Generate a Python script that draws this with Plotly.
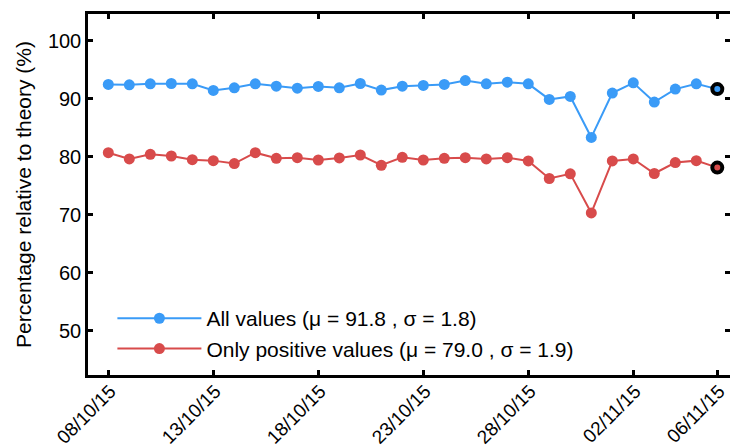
import plotly.graph_objects as go
import pandas as pd

dates = pd.date_range("2015-10-08", "2015-11-06", freq="D")

all_values = [92.45, 92.39, 92.56, 92.62, 92.56, 91.42, 91.88, 92.56, 92.16, 91.82,
              92.11, 91.88, 92.62, 91.48, 92.16, 92.28, 92.45, 93.13, 92.56, 92.85,
              92.56, 89.88, 90.39, 83.32, 90.96, 92.73, 89.42, 91.65, 92.56, 91.65]
positive_values = [80.69, 79.61, 80.41, 80.12, 79.49, 79.32, 78.81, 80.69, 79.72, 79.83,
                   79.43, 79.78, 80.29, 78.52, 79.89, 79.43, 79.72, 79.83, 79.61, 79.83,
                   79.26, 76.24, 77.04, 70.30, 79.26, 79.61, 77.10, 78.98, 79.32, 78.12]

tick_dates = ["2015-10-08", "2015-10-13", "2015-10-18", "2015-10-23",
              "2015-10-28", "2015-11-02", "2015-11-06"]
tick_labels = ["08/10/15", "13/10/15", "18/10/15", "23/10/15",
               "28/10/15", "02/11/15", "06/11/15"]

label_all = "All values (\u03bc = 91.8 , \u03c3 = 1.8)"
label_pos = "Only positive values (\u03bc = 79.0 , \u03c3 = 1.9)"

BLUE = "#3a9bf7"
RED = "#d84b4b"
FONT = "Liberation Sans, Arial, Helvetica, sans-serif"
FS = 20
FS_BIG = 21

fig = go.Figure()
fig.add_trace(go.Scatter(x=dates, y=all_values, mode="lines+markers", name=label_all,
                         line=dict(color=BLUE, width=2), marker=dict(color=BLUE, size=11),
                         legendgroup="a"))
fig.add_trace(go.Scatter(x=dates, y=positive_values, mode="lines+markers", name=label_pos,
                         line=dict(color=RED, width=2), marker=dict(color=RED, size=11),
                         legendgroup="b"))
fig.add_trace(go.Scatter(x=[dates[-1]], y=[all_values[-1]], mode="markers", showlegend=False,
                         marker=dict(color=BLUE, size=10, line=dict(color="black", width=4))))
fig.add_trace(go.Scatter(x=[dates[-1]], y=[positive_values[-1]], mode="markers", showlegend=False,
                         marker=dict(color=RED, size=10, line=dict(color="black", width=4))))

axis_common = dict(showline=True, linecolor="black", linewidth=2.5, mirror="ticks",
                   ticks="inside", ticklen=5, tickwidth=2.5, tickcolor="black",
                   showgrid=False, zeroline=False, automargin=False)

fig.update_xaxes(range=["2015-10-07 00:47", "2015-11-06 14:31"],
                 tickvals=tick_dates, ticktext=tick_labels, tickangle=-45,
                 ticklabelstandoff=-5, ticklabelshift=2,
                 tickfont=dict(family=FONT, size=19, color="black"), **axis_common)
fig.update_yaxes(range=[42.36, 104.6], tickvals=[50, 60, 70, 80, 90, 100],
                 tickfont=dict(family=FONT, size=FS, color="black"),
                 title=dict(text="Percentage relative to theory (%)",
                            font=dict(family=FONT, size=FS_BIG, color="black"), standoff=11),
                 **axis_common)

fig.update_layout(
    width=730, height=448,
    margin=dict(l=88, r=0, t=14, b=73),
    plot_bgcolor="white", paper_bgcolor="white",
    font=dict(family=FONT, size=FS, color="black"),
    showlegend=True,
    legend=dict(x=0.038, y=0.213, xanchor="left", yanchor="top",
                bgcolor="rgba(0,0,0,0)", itemwidth=84, tracegroupgap=0,
                font=dict(family=FONT, size=FS_BIG, color="black")),
)

fig.write_html("out.html", config={"displayModeBar": False},
               post_script="document.body.style.margin='0';document.body.style.overflow='hidden';")
